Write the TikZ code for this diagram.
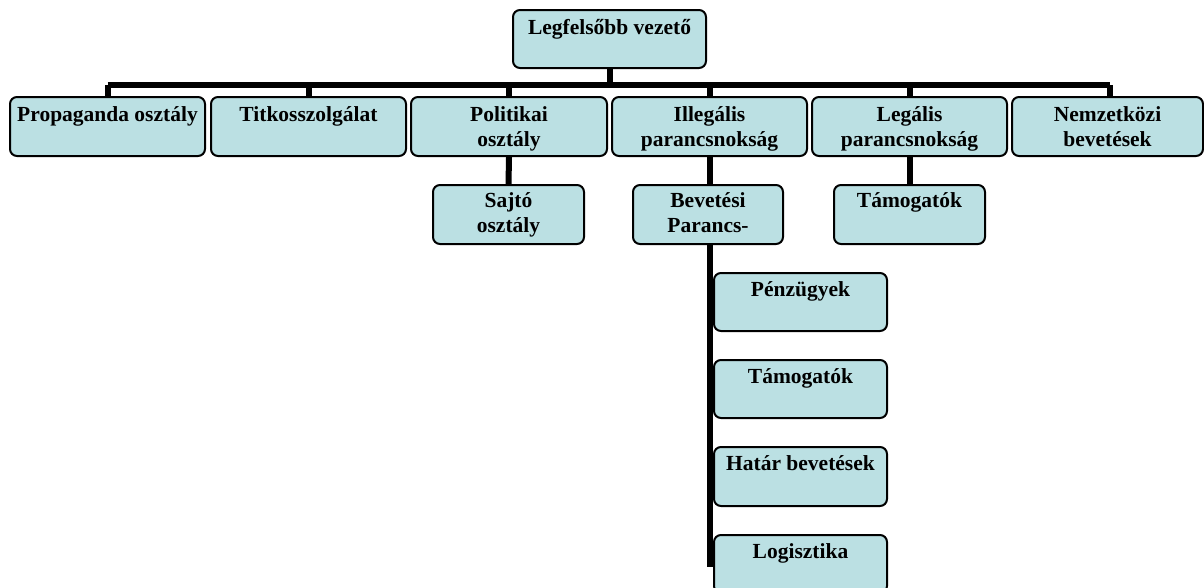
\documentclass[tikz,border=0pt]{standalone}
\usepackage{fontspec}
\setmainfont{Liberation Serif}
\usetikzlibrary{backgrounds}
\definecolor{boxfill}{RGB}{187,224,227}
\tikzset{
  obox/.style={draw=black, line width=2pt, rounded corners=7pt, fill=boxfill, inner sep=0pt},
  otxt/.style={font=\fontsize{21.5}{25}\selectfont\bfseries, inner sep=0pt, anchor=base},
  conn/.style={line width=6pt, draw=black}
}
\begin{document}
\begin{tikzpicture}[x=1pt,y=-1pt]
\useasboundingbox (0,0) rectangle (1204,587);
\clip (0,0) rectangle (1204,587);
% level 0
\node[obox, minimum width=193pt, minimum height=58pt] (top) at (609.5,39) {};
% level 1
\node[obox, minimum width=195pt, minimum height=59pt] (prop) at (107.5,126.5) {};
\node[obox, minimum width=195pt, minimum height=59pt] (titk) at (308.5,126.5) {};
\node[obox, minimum width=196pt, minimum height=59pt] (pol) at (509,126.5) {};
\node[obox, minimum width=195pt, minimum height=59pt] (ill) at (709.5,126.5) {};
\node[obox, minimum width=195pt, minimum height=59pt] (leg) at (909.5,126.5) {};
\node[obox, minimum width=191pt, minimum height=59pt] (nem) at (1107.5,126.5) {};
% level 2
\node[obox, minimum width=151pt, minimum height=59pt] (sajto) at (508.5,214.5) {};
\node[obox, minimum width=150pt, minimum height=59pt] (bev) at (708,214.5) {};
\node[obox, minimum width=151pt, minimum height=59pt] (tam) at (909.5,214.5) {};
% level 3
\node[obox, minimum width=173pt, minimum height=58pt] (penz) at (800.5,302) {};
\node[obox, minimum width=173pt, minimum height=58pt] (tam2) at (800.5,389) {};
\node[obox, minimum width=173pt, minimum height=59pt] (hat) at (800.5,476.5) {};
\node[obox, minimum width=173pt, minimum height=58pt] (logi) at (800.5,564) {};
% texts
\node[otxt] (topT) at ([yshift=-25pt]top.north) {Legfelsőbb vezető};
\node[otxt] (propT) at ([yshift=-25pt]prop.north) {Propaganda osztály};
\node[otxt] (titkT) at ([yshift=-25pt]titk.north) {Titkosszolgálat};
\node[otxt] (polT1) at ([yshift=-25pt]pol.north) {Politikai};
\node[otxt] (polT2) at ([yshift=-50pt]pol.north) {osztály};
\node[otxt] (illT1) at ([yshift=-25pt]ill.north) {Illegális};
\node[otxt] (illT2) at ([yshift=-50pt]ill.north) {parancsnokság};
\node[otxt] (legT1) at ([yshift=-25pt]leg.north) {Legális};
\node[otxt] (legT2) at ([yshift=-50pt]leg.north) {parancsnokság};
\node[otxt] (nemT1) at ([yshift=-25pt]nem.north) {Nemzetközi};
\node[otxt] (nemT2) at ([yshift=-50pt]nem.north) {bevetések};
\node[otxt] (sajtoT1) at ([yshift=-23.5pt]sajto.north) {Sajtó};
\node[otxt] (sajtoT2) at ([yshift=-48.5pt]sajto.north) {osztály};
\node[otxt] (bevT1) at ([yshift=-23.5pt]bev.north) {Bevetési};
\node[otxt] (bevT2) at ([yshift=-48.5pt]bev.north) {Parancs-};
\node[otxt] (tamT) at ([yshift=-23.5pt]tam.north) {Támogatók};
\node[otxt] (penzT) at ([yshift=-24pt]penz.north) {Pénzügyek};
\node[otxt] (tam2T) at ([yshift=-24pt]tam2.north) {Támogatók};
\node[otxt] (hatT) at ([yshift=-24pt]hat.north) {Határ bevetések};
\node[otxt] (logiT) at ([yshift=-24pt]logi.north) {Logisztika};
% connectors
\begin{scope}[on background layer]
\coordinate (busL) at (107.5,85);
\coordinate (busR) at (1110,85);
\draw[conn] (busL) -- (busR);
\draw[conn] (top.south) -- (top.south |- busL);
\foreach \c in {prop,titk,pol,ill,leg} {
  \draw[conn] (\c.north) -- (\c.north |- busL);
}
\draw[conn] (busR) -- (busR |- nem.north);
\draw[conn] (pol.south) -- (sajto.north);
\draw[conn] (ill.south) -- (ill.south |- bev.north);
\draw[conn] (leg.south) -- (tam.north);
\coordinate (bevx) at (710,244);
\draw[conn] (bevx |- bev.south) -- (bevx |- logi.west) -- (logi.west);
\foreach \c in {penz,tam2,hat} {
  \draw[conn] (bevx |- \c.west) -- (\c.west);
}
\end{scope}
\end{tikzpicture}
\end{document}
